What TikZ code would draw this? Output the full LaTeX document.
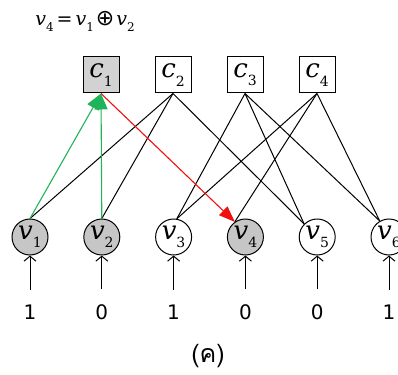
\documentclass[tikz,border=0pt]{standalone}
\usepackage{fontspec}
\setmainfont{DejaVu Serif}
\newfontfamily\numfont{DejaVu Sans}
\newfontfamily\symfont{DejaVu Sans}
\newfontfamily\thaifont[Script=Thai]{Loma}
\usetikzlibrary{arrows.meta}

% italic symbol with an upright, lowered index
\newcommand{\symsub}[3]{{\itshape #1}\raisebox{-0.32em}{\fontsize{#3}{#3}\selectfont #2}}

\definecolor{checkfill}{HTML}{D2D2D2}
\definecolor{varfill}{HTML}{C6C6C6}
\definecolor{flowgreen}{HTML}{1FB45A}
\definecolor{flowred}{HTML}{F01010}

\tikzset{
  checkbox/.style={draw, line width=1pt, minimum size=36pt, inner sep=0pt,
    font=\fontsize{26}{26}\selectfont},
  varnode/.style={draw, circle, line width=1pt, minimum size=36pt, inner sep=0pt,
    font=\fontsize{26}{26}\selectfont},
  known/.style={fill=varfill},
  bitval/.style={font=\numfont\fontsize{20}{20}\selectfont, inner sep=2pt},
  edge/.style={line width=1pt},
  gedge/.style={line width=1.1pt, draw=flowgreen,
    -{Triangle[length=16pt,width=13pt,fill=flowgreen]}},
  redge/.style={line width=1.1pt, draw=flowred,
    -{Triangle[length=16pt,width=12pt,fill=flowred]}},
  inedge/.style={line width=1pt, -{Straight Barb[length=5pt,width=12pt]},
    shorten <=13pt},
}

\begin{document}
\begin{tikzpicture}[x=1pt, y=-1pt]
\useasboundingbox (0,0) rectangle (398,374);

% decoding relation
\node (eq) at (85,21) {\fontsize{19}{19}\selectfont
  \symsub{v}{4}{12}\hspace{3pt}=\hspace{3pt}\symsub{v}{1}{12}\hspace{2pt}{\symfont\fontsize{22}{22}\selectfont ⊕}\hspace{2pt}\symsub{v}{2}{12}};

% check nodes
\node[checkbox, fill=checkfill] (c1) at (101,75) {\symsub{c}{1}{14}};
\node[checkbox] (c2) at (173,75) {\symsub{c}{2}{14}};
\node[checkbox] (c3) at (245,75) {\symsub{c}{3}{14}};
\node[checkbox] (c4) at (317,75) {\symsub{c}{4}{14}};

% variable nodes
\node[varnode, known] (v1) at (30,237) {\symsub{v}{1}{14}};
\node[varnode, known] (v2) at (101.8,237) {\symsub{v}{2}{14}};
\node[varnode] (v3) at (173.6,237) {\symsub{v}{3}{14}};
\node[varnode, known] (v4) at (245.4,237) {\symsub{v}{4}{14}};
\node[varnode] (v5) at (317.2,237) {\symsub{v}{5}{14}};
\node[varnode] (v6) at (389,237) {\symsub{v}{6}{14}};

% received bits
\node[bitval] (b1) at (30,312) {1};
\node[bitval] (b2) at (101.8,312) {0};
\node[bitval] (b3) at (173.6,312) {1};
\node[bitval] (b4) at (245.4,312) {0};
\node[bitval] (b5) at (317.2,312) {0};
\node[bitval] (b6) at (389,312) {1};

\foreach \i in {1,...,6} \draw[inedge] (b\i) -- (v\i.south);

% graph edges
\draw[edge] (c2.south) -- (v1.north);
\draw[edge] (c2.south) -- (v2.north);
\draw[edge] (c2.south) -- (v5.135);
\draw[edge] (c3.south) -- (v3.80);
\draw[edge] (c3.south) -- (v5.135);
\draw[edge] (c3.south) -- (v6.120);
\draw[edge] (c4.south) -- (v3.80);
\draw[edge] (c4.south) -- (v4.125);
\draw[edge] (c4.south) -- (v6.120);

% message flow through c1
\draw[gedge] (v1.north) -- (c1.south);
\draw[gedge] (v2.north) -- (c1.south);
\draw[redge] (c1.south) -- (v4.125);

% caption
\node[inner sep=1pt] (cap) at (208,356) {\thaifont\fontsize{25}{25}\selectfont (ค)};
\end{tikzpicture}
\end{document}
